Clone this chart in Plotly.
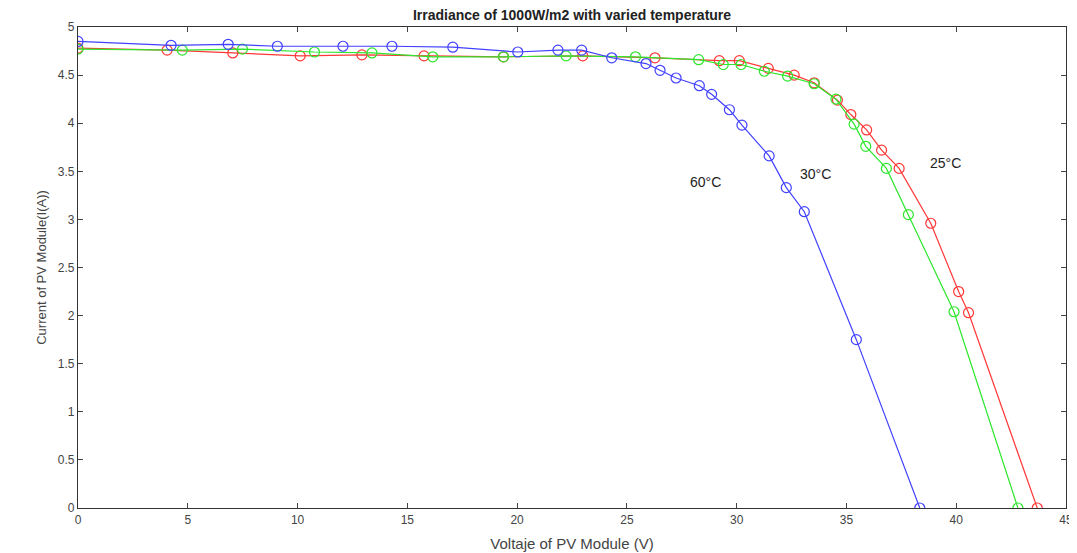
import plotly.graph_objects as go

# 25°C (red)
v25 = [0, 4.06, 7.05, 10.12, 12.93, 15.76, 19.38, 22.99, 26.28, 29.21, 30.12, 31.44,
       32.62, 33.53, 34.59, 35.20, 35.92, 36.60, 37.40, 38.84, 40.11, 40.56, 43.69]
i25 = [4.78, 4.76, 4.73, 4.70, 4.71, 4.70, 4.69, 4.70, 4.68, 4.65, 4.65, 4.57,
       4.50, 4.42, 4.24, 4.09, 3.93, 3.72, 3.53, 2.96, 2.25, 2.03, 0]

# 30°C (green)
v30 = [0, 4.75, 7.49, 10.77, 13.39, 16.16, 19.38, 22.23, 25.39, 28.27, 29.39, 30.20,
       31.26, 32.32, 33.53, 34.52, 35.35, 35.88, 36.82, 37.82, 39.90, 42.81]
i30 = [4.77, 4.76, 4.77, 4.74, 4.73, 4.69, 4.69, 4.70, 4.69, 4.66, 4.61, 4.61,
       4.54, 4.49, 4.41, 4.25, 3.99, 3.76, 3.53, 3.05, 2.04, 0]

# 60°C (blue)
v60 = [0, 4.24, 6.84, 9.08, 12.07, 14.30, 17.07, 20.03, 21.86, 22.94, 24.31, 25.87,
       26.51, 27.24, 28.30, 28.86, 29.67, 30.24, 31.48, 32.26, 33.08, 35.45, 38.34]
i60 = [4.85, 4.81, 4.82, 4.80, 4.80, 4.80, 4.79, 4.74, 4.76, 4.76, 4.68, 4.62,
       4.55, 4.47, 4.39, 4.30, 4.14, 3.98, 3.66, 3.33, 3.08, 1.75, 0]

labels = ["25°C", "30°C", "60°C"]
label_x = [39.5, 33.58, 28.57]
label_y = [3.59, 3.47, 3.39]

x_ticks = [0, 5, 10, 15, 20, 25, 30, 35, 40, 45]
y_ticks = [0, 0.5, 1, 1.5, 2, 2.5, 3, 3.5, 4, 4.5, 5]

series = [
    (v25, i25, "rgb(255,55,55)"),
    (v30, i30, "rgb(45,230,45)"),
    (v60, i60, "rgb(65,65,255)"),
]

FONT = "Liberation Sans, Arial"

fig = go.Figure()
for vx, iy, col in series:
    fig.add_trace(go.Scatter(
        x=vx, y=iy, mode="lines+markers",
        line=dict(color=col, width=1.2),
        marker=dict(symbol="circle-open", size=10, color=col, line=dict(width=1.2, color=col)),
        showlegend=False,
    ))

for t, lx, ly in zip(labels, label_x, label_y):
    fig.add_annotation(x=lx, y=ly, text=t, showarrow=False,
                       font=dict(family=FONT, size=14, color="#222"))

axis_common = dict(
    showgrid=False, zeroline=False, showline=True, linecolor="#333", linewidth=1.3,
    mirror="ticks", ticks="inside", ticklen=5, tickcolor="#444", tickwidth=1,
    tickfont=dict(family=FONT, size=12, color="#444"),
)

fig.update_xaxes(range=[0, 45], tickvals=x_ticks, ticktext=[str(t) for t in x_ticks],
                 title=dict(text="Voltaje of PV Module (V)", standoff=12,
                            font=dict(family=FONT, size=15, color="#444")),
                 **axis_common)
fig.update_yaxes(range=[0, 5], tickvals=y_ticks, ticktext=[("%g" % t) for t in y_ticks],
                 title=dict(text="Current of PV Module(I(A))", standoff=8,
                            font=dict(family=FONT, size=13, color="#444")),
                 **axis_common)

fig.update_layout(
    width=1077, height=553,
    margin=dict(l=70, r=18, t=16, b=52),
    paper_bgcolor="white", plot_bgcolor="white",
    title=dict(text="<b>Irradiance of 1000W/m2 with varied temperature</b>",
               xref="paper", x=0.5, xanchor="center", y=0.987, yanchor="middle",
               font=dict(family=FONT, size=14, color="#222")),
)

fig.write_html("out.html")
